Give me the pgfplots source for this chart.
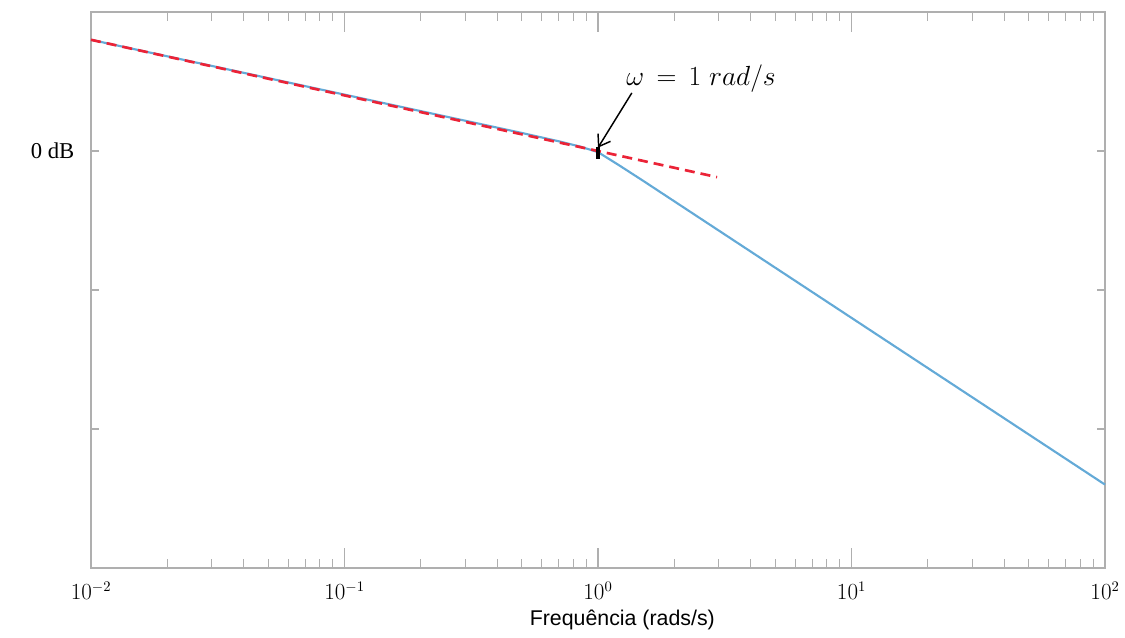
\documentclass[border=0pt]{standalone}
\usepackage{fontspec}
\usepackage{pgfplots}
\pgfplotsset{compat=1.18}
\usetikzlibrary{arrows.meta}
\setmainfont{Liberation Serif}
\newfontfamily\arialfont{Liberation Sans}

\definecolor{axgray}{RGB}{175,175,175}
\definecolor{bodeblue}{RGB}{100,170,215}
\definecolor{asymred}{RGB}{235,35,55}

\begin{document}
\begin{tikzpicture}
	% page size (1 px = 0.75pt)
	\path[use as bounding box] (-68.25pt,-51.75pt) rectangle (775.5pt,426pt);
	\begin{axis}[
		scale only axis,
		width=760.5pt,
		height=417pt,
		xmode=log,
		xmin=0.01, xmax=100,
		ymin=-150, ymax=50,
		axis line style={axgray, line width=1.3pt},
		tick style={axgray, line width=0.8pt},
		tick align=inside,
		major tick length=15pt,
		minor tick length=7pt,
		ytick style={/pgfplots/major tick length=6pt},
		xtick={0.01,0.1,1,10,100},
		ytick={0,-50,-100},
		yticklabels={0 dB,,},
		yticklabel style={font=\fontsize{17}{20}\selectfont, xshift=-9pt},
		xticklabel style={font=\fontsize{16}{19}\selectfont, yshift=-7pt},
		xlabel={\arialfont Frequência (rads/s)},
		xlabel style={font=\fontsize{16}{19}\selectfont, at={(axis description cs:0.524,0)}, anchor=center, yshift=-39pt},
		clip=false,
		]
		% |H| in dB: -20 dB/dec below 1 rad/s, -60 dB/dec above
		\addplot[bodeblue, line width=1.6pt] coordinates {
			(0.01,40) (0.5,6.5) (0.7,3.5) (0.85,1.6) (1,-0.4)
			(1.2,-4.9) (1.5,-10.6) (100,-120)
		};
		% asymptote
		\addplot[asymred, line width=2pt, dash pattern=on 7.5pt off 4.5pt] coordinates {
			(0.01,40) (2.95,-9.4)
		};
		\addplot[black, only marks, mark=|, mark size=4.5pt, mark options={line width=3.5pt}] coordinates {(1,-0.8)};
		\draw[black, line width=1.1pt, -{Straight Barb[length=8pt, width=11pt]}] (axis cs:1.36,20.9) -- (axis cs:1.0,1.2);
		\node[font=\fontsize{22}{26}\selectfont] at (axis cs:2.55,25.9) {$\omega \,=\, 1\;rad/s$};
	\end{axis}
\end{tikzpicture}
\end{document}
